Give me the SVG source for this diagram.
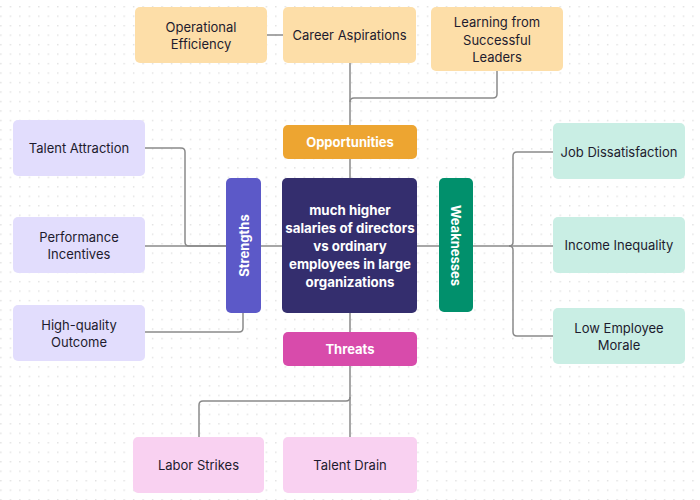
<svg xmlns="http://www.w3.org/2000/svg" width="700" height="500" viewBox="0 0 700 500">
<defs>
<pattern id="dots" x="0.2" y="6" width="9.48" height="9.48" patternUnits="userSpaceOnUse">
<rect x="0" y="0" width="1.4" height="1.4" fill="#e0e0e0"/>
</pattern>
<style>
.leaf text{font-family:Inter,"Liberation Sans",sans-serif;font-size:13px;fill:#1d1b2e;text-anchor:middle;dominant-baseline:central}
.hdr text{font-family:Inter,"Liberation Sans",sans-serif;font-size:13px;font-weight:bold;fill:#ffffff;text-anchor:middle;dominant-baseline:central}
#center text{font-size:13.3px}
.opp rect{fill:#fddea8}
.str rect{fill:#e2ddfd}
.wk rect{fill:#c9eee4}
.thr rect{fill:#f9d1f1}
.conn path{fill:none;stroke:#8a8a8a;stroke-width:1.5}
</style>
</defs>
<rect width="700" height="500" fill="#ffffff"/>
<rect width="700" height="500" fill="url(#dots)"/>

<g class="conn" id="connectors">
<path d="M267,35 H283"/>
<path d="M350,63 V125"/>
<path d="M497,71 V94 Q497,98 493,98 H354 Q350,98 350,102"/>
<path d="M350,159 V178"/>
<path d="M350,313 V332"/>
<path d="M261,246 H282"/>
<path d="M417,246 H439"/>
<path d="M145,246 H226"/>
<path d="M145,148 H181 Q185,148 185,152 V242 Q185,246 189,246 H226"/>
<path d="M145,332 H239 Q243,332 243,328 V313"/>
<path d="M473,246 H553"/>
<path d="M553,152 H517 Q513,152 513,156 V242 Q513,246 509,246"/>
<path d="M553,336 H517 Q513,336 513,332 V250 Q513,246 509,246"/>
<path d="M350,366 V437"/>
<path d="M350,397 Q350,401 346,401 H203 Q199,401 199,405 V437"/>
</g>

<g id="center" class="hdr">
<rect x="282" y="178" width="135" height="135" rx="5" fill="#342e6e"/>
<text x="350" y="210">much higher</text>
<text x="350" y="228">salaries of directors</text>
<text x="350" y="246">vs ordinary</text>
<text x="350" y="264">employees in large</text>
<text x="350" y="282">organizations</text>
</g>

<g id="opportunities" class="hdr">
<rect x="283" y="125" width="134" height="34" rx="5" fill="#eda531"/>
<text x="350" y="142">Opportunities</text>
</g>
<g id="threats" class="hdr">
<rect x="283" y="332" width="134" height="34" rx="5" fill="#d84bab"/>
<text x="350" y="349">Threats</text>
</g>
<g id="strengths" class="hdr">
<rect x="226" y="178" width="35" height="135" rx="5" fill="#5c59c8"/>
<text x="0" y="0" transform="translate(243.5,245.5) rotate(-90)">Strengths</text>
</g>
<g id="weaknesses" class="hdr">
<rect x="439" y="178" width="34" height="134" rx="5" fill="#01906c"/>
<text x="0" y="0" transform="translate(456,245.5) rotate(90)">Weaknesses</text>
</g>

<g id="operational-efficiency" class="leaf opp">
<rect x="135" y="7" width="132" height="56" rx="5"/>
<text x="201" y="27">Operational</text>
<text x="201" y="44">Efficiency</text>
</g>
<g id="career-aspirations" class="leaf opp">
<rect x="283" y="7" width="133" height="56" rx="5"/>
<text x="349.5" y="35">Career Aspirations</text>
</g>
<g id="learning" class="leaf opp">
<rect x="431" y="7" width="132" height="64" rx="5"/>
<text x="497" y="22">Learning from</text>
<text x="497" y="39.5">Successful</text>
<text x="497" y="57">Leaders</text>
</g>

<g id="talent-attraction" class="leaf str">
<rect x="13" y="120" width="132" height="56" rx="5"/>
<text x="79" y="148">Talent Attraction</text>
</g>
<g id="performance-incentives" class="leaf str">
<rect x="13" y="217" width="132" height="56" rx="5"/>
<text x="79" y="237">Performance</text>
<text x="79" y="254">Incentives</text>
</g>
<g id="high-quality-outcome" class="leaf str">
<rect x="13" y="305" width="132" height="56" rx="5"/>
<text x="79" y="325">High-quality</text>
<text x="79" y="342">Outcome</text>
</g>

<g id="job-dissatisfaction" class="leaf wk">
<rect x="553" y="123" width="132" height="56" rx="5"/>
<text x="619" y="151.5">Job Dissatisfaction</text>
</g>
<g id="income-inequality" class="leaf wk">
<rect x="553" y="217" width="132" height="56" rx="5"/>
<text x="619" y="245">Income Inequality</text>
</g>
<g id="low-employee-morale" class="leaf wk">
<rect x="553" y="308" width="132" height="56" rx="5"/>
<text x="619" y="328">Low Employee</text>
<text x="619" y="345">Morale</text>
</g>

<g id="labor-strikes" class="leaf thr">
<rect x="133" y="437" width="131" height="56" rx="5"/>
<text x="198.5" y="465">Labor Strikes</text>
</g>
<g id="talent-drain" class="leaf thr">
<rect x="283" y="437" width="134" height="56" rx="5"/>
<text x="350" y="465">Talent Drain</text>
</g>
</svg>
